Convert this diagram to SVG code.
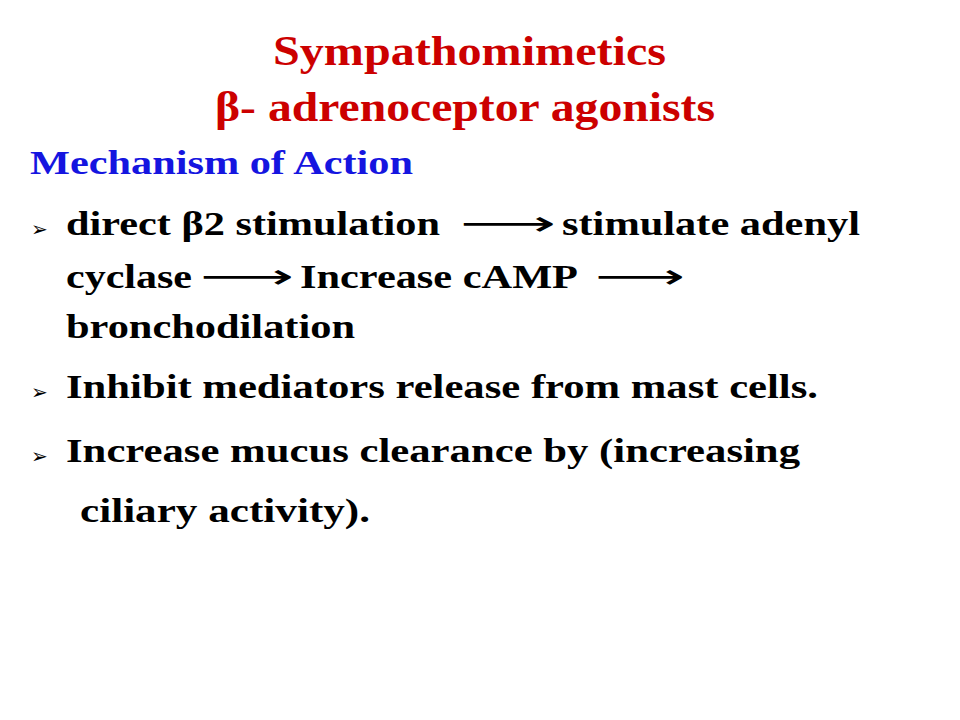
<svg xmlns="http://www.w3.org/2000/svg" width="960" height="720" viewBox="0 0 960 720">
<style>
text{font-family:"Liberation Serif","Times New Roman",serif;font-weight:bold;}
.t{fill:#cc0000;font-size:42px;}
.h{fill:#1515e0;font-size:34px;}
.b{fill:#000;font-size:34px;}
.bl{fill:#000;font-size:20px;font-family:"DejaVu Sans",sans-serif;font-weight:normal;}
.ar{font-family:"DejaVu Sans",sans-serif;font-weight:normal;}
</style>
<rect width="960" height="720" fill="#fff"/>
<g id="title">
<text class="t" x="273" y="65" textLength="393" lengthAdjust="spacingAndGlyphs">Sympathomimetics</text>
<text class="t" x="215" y="121" textLength="500" lengthAdjust="spacingAndGlyphs">β- adrenoceptor agonists</text>
</g>
<g id="heading"><text class="h" x="30" y="174" textLength="383" lengthAdjust="spacingAndGlyphs">Mechanism of Action</text></g>
<g id="bullet1">
<text class="bl" x="31" y="236">➢</text>
<text class="b" x="66" y="235" textLength="374" lengthAdjust="spacingAndGlyphs">direct β2 stimulation</text>
<text class="b ar" x="460" y="235" textLength="96" lengthAdjust="spacingAndGlyphs">⟶</text>
<text class="b" x="562" y="235" textLength="298" lengthAdjust="spacingAndGlyphs">stimulate adenyl</text>
<text class="b" x="66" y="288" textLength="126" lengthAdjust="spacingAndGlyphs">cyclase</text>
<text class="b ar" x="200" y="288" textLength="94" lengthAdjust="spacingAndGlyphs">⟶</text>
<text class="b" x="300" y="288" textLength="278" lengthAdjust="spacingAndGlyphs">Increase cAMP</text>
<text class="b ar" x="595" y="288" textLength="90" lengthAdjust="spacingAndGlyphs">⟶</text>
<text class="b" x="66" y="338" textLength="289" lengthAdjust="spacingAndGlyphs">bronchodilation</text>
</g>
<g id="bullet2">
<text class="bl" x="31" y="399">➢</text>
<text class="b" x="66" y="398" textLength="752" lengthAdjust="spacingAndGlyphs">Inhibit mediators release from mast cells.</text>
</g>
<g id="bullet3">
<text class="bl" x="31" y="463">➢</text>
<text class="b" x="66" y="462" textLength="734" lengthAdjust="spacingAndGlyphs">Increase mucus clearance by (increasing</text>
<text class="b" x="80" y="522" textLength="290" lengthAdjust="spacingAndGlyphs">ciliary activity).</text>
</g>
</svg>
